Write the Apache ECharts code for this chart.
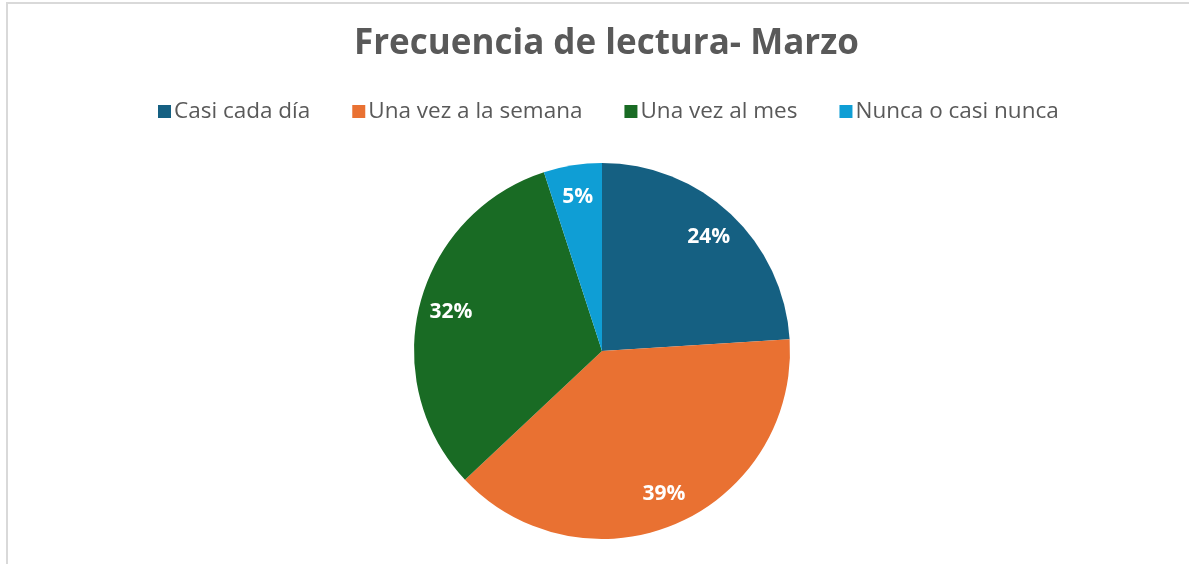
<!DOCTYPE html>
<html>
<head>
<meta charset="utf-8">
<script src="https://cdn.jsdelivr.net/npm/echarts@6/dist/echarts.min.js"></script>
<style>
html,body{margin:0;padding:0;background:#fff;}
#main{width:1189px;height:564px;}
</style>
</head>
<body>
<div id="main"></div>
<script>
var categories = ['Casi cada día', 'Una vez a la semana', 'Una vez al mes', 'Nunca o casi nunca'];
var values = [24, 39, 32, 5];
var colors = ['#156082', '#E97132', '#196B24', '#0F9ED5'];

var chart = echarts.init(document.getElementById('main'));

var pieData = categories.map(function (c, i) {
	return { name: c, value: values[i], itemStyle: { color: colors[i] } };
});

var option = {
	backgroundColor: '#fff',
	animation: false,
	title: {
		text: 'Frecuencia de lectura- Marzo',
		left: 349,
		top: 22,
		textStyle: {
			color: '#595959',
			fontFamily: 'Open Sans',
			fontWeight: 'bold',
			fontSize: 35
		}
	},
	legend: {
		data: categories,
		top: 95,
		left: 153,
		icon: 'rect',
		itemWidth: 13,
		itemHeight: 13,
		itemGap: 42,
		textStyle: {
			color: '#595959',
			fontFamily: 'Open Sans',
			fontSize: 22.5,
			padding: [0, 0, 0, -2]
		}
	},
	graphic: [{
		type: 'polyline',
		shape: { points: [[7, 564], [7, 3], [1189, 3]] },
		style: { stroke: '#d9d9d9', lineWidth: 2, fill: null },
		silent: true
	}],
	series: [{
		type: 'pie',
		center: [602, 351],
		radius: 188,
		startAngle: 90,
		clockwise: true,
		data: pieData,
		label: { show: false },
		labelLine: { show: false },
		emphasis: { disabled: true }
	}, {
		// transparent ring only used to place the percentage labels
		type: 'pie',
		center: [602, 351],
		radius: [118, 188],
		startAngle: 90,
		clockwise: true,
		silent: true,
		data: pieData.map(function (d) {
			return { name: d.name, value: d.value, itemStyle: { color: 'rgba(0,0,0,0)' } };
		}),
		label: {
			show: true,
			position: 'inside',
			formatter: '{c}%',
			color: '#fff',
			fontFamily: 'Open Sans',
			fontWeight: 'bold',
			fontSize: 21
		},
		labelLine: { show: false },
		emphasis: { disabled: true }
	}]
};

chart.setOption(option);
</script>
</body>
</html>
